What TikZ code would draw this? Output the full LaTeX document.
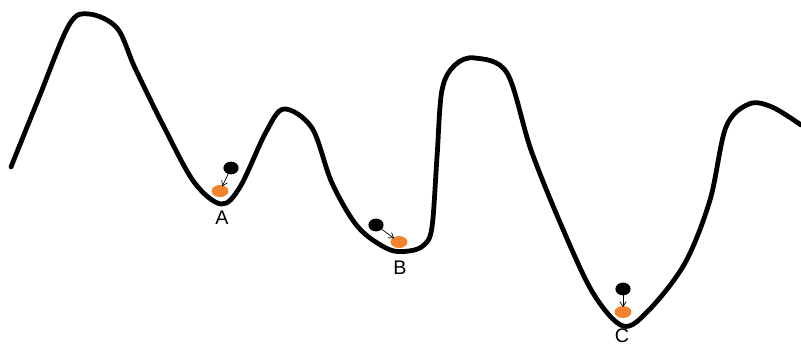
\documentclass[tikz,border=0pt]{standalone}
\usepackage{fontspec}
\setmainfont{Liberation Sans}
\usetikzlibrary{arrows.meta, positioning, shapes.geometric}
\definecolor{ballorange}{RGB}{243,130,45}
\tikzset{
  land/.style={line width=3.4pt, line join=round, line cap=round},
  old/.style={ellipse, fill=black, inner sep=0pt, minimum width=0.38cm, minimum height=0.32cm},
  new/.style={ellipse, fill=ballorange, inner sep=0pt, minimum width=0.42cm, minimum height=0.30cm},
  arr/.style={-{Straight Barb[length=1.2mm, width=1.6mm]}, line width=0.5pt, shorten <=-1pt, shorten >=-1pt},
  lbl/.style={font=\fontsize{14}{16}\selectfont, inner sep=0pt},
}

\begin{document}
\begin{tikzpicture}[x=0.025cm, y=-0.025cm]
    \useasboundingbox (0,0) rectangle (801,347);
    % energy landscape
    \draw[land] plot[smooth, tension=0.55] coordinates {
      (11,167) (38,100) (69,25) (89,14) (117,28) (135,68) (164,127) (194,182)
      (221,204) (240,187) (266,132) (284,109) (312,128) (332,183) (358,227)
      (388,249) (409,251) (424,245) (432,227) (437,157) (442,90) (455,65)
      (475,58) (507,73) (531,150) (562,227) (593,293) (623,326) (649,310)
      (685,263) (710,200) (726,127) (749,104) (772,107) (801,125)};
    % valley A
    \node[old] (a0) at (231,168) {};
    \node[new] (a1) at (220,191) {};
    \draw[arr] (a0) -- (a1);
    \node[lbl] (la) at (222,218) {A};
    % valley B
    \node[old] (b0) at (376,225) {};
    \node[new] (b1) at (399,242) {};
    \draw[arr] (b0) -- (b1);
    \node[lbl] (lb) at (400,268) {B};
    % valley C
    \node[old] (c0) at (623,289) {};
    \node[new] (c1) at (623,312) {};
    \draw[arr] (c0) -- (c1);
    \node[lbl] (lc) at (622,336) {C};
\end{tikzpicture}
\end{document}
